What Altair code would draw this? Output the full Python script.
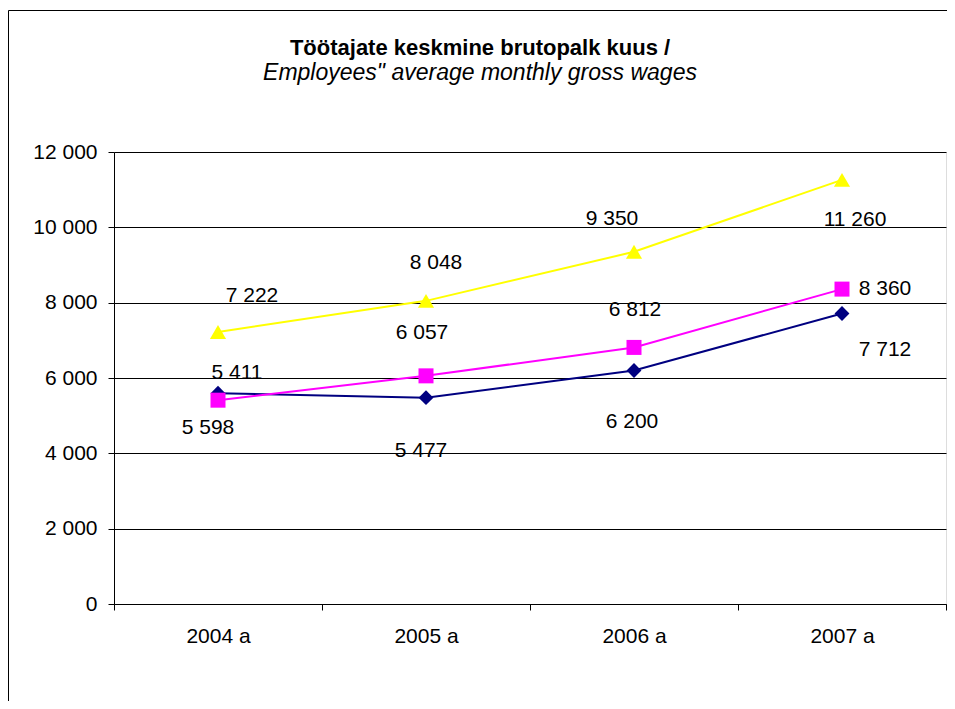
import altair as alt
import pandas as pd

# ---- data ----
years = ["2004 a", "2005 a", "2006 a", "2007 a"]
series_names = ["Narva", "Ida Virumaa / Ida Viru county", "Eesti  / Estonia"]
narva = [5598, 5477, 6200, 7712]
ida_viru = [5411, 6057, 6812, 8360]
eesti = [7222, 8048, 9350, 11260]
y_ticks = [0, 2000, 4000, 6000, 8000, 10000, 12000]

# ---- styles ----
colors = ["#000080", "#FF00FF", "#FFFF00"]
marker_shapes = ["diamond", "square", "triangle-up"]
marker_sizes = [220, 225, 260]
# legend symbols: a line with the marker on it (unit = 7 px)
legend_paths = [
    "M-1,0L6.86,0M2.93,-1L3.93,0L2.93,1L1.93,0Z",
    "M-1,0L6.86,0M2.0,-0.95L3.86,-0.95L3.86,0.95L2.0,0.95Z",
    "M-1,0L6.86,0M2.93,-1.1L4.03,0.8L1.83,0.8Z",
]
# data-label pixel offsets (label placement, styling only)
label_dx = [[-10, -5, -2, 43], [19, -4, 1, 43], [34, 10, -22, 13]]
label_dy = [[35, 53, 52, 36], [-27, -43, -37, 0], [-36, -38, -33, 40]]

FONT = "Liberation Sans"
FS = 21

rows = []
for si, (name, vals) in enumerate(zip(series_names, [narva, ida_viru, eesti])):
    for yi, (yr, v) in enumerate(zip(years, vals)):
        rows.append({
            "series": name,
            "year": yr,
            "value": v,
            "label": f"{v:,}".replace(",", " "),
            "dx": label_dx[si][yi],
            "dy": label_dy[si][yi],
        })
df = pd.DataFrame(rows)

x_enc = alt.X(
    "year:N",
    sort=years,
    scale=alt.Scale(type="band", paddingInner=0, paddingOuter=0, domain=years),
    axis=alt.Axis(
        title=None, labelAngle=0, tickBand="extent", grid=False,
        tickSize=6, labelPadding=15, domainColor="black", tickColor="black",
        labelFont=FONT, labelFontSize=FS, labelColor="black",
    ),
)
y_enc = alt.Y(
    "value:Q",
    scale=alt.Scale(domain=[0, 12000], nice=False, zero=True),
    axis=alt.Axis(
        title=None, values=y_ticks, grid=True, gridColor="black", gridWidth=1,
        labelExpr="replace(format(datum.value, ','), ',', ' ')",
        tickSize=6, labelPadding=11, domainColor="black", tickColor="black",
        labelFont=FONT, labelFontSize=FS, labelColor="black",
    ),
)
color_scale = alt.Scale(domain=series_names, range=colors)

base = alt.Chart(df)
one = alt.Chart(pd.DataFrame({"k": [0]}))

# outer chart border (left and top edges; the others fall outside the picture)
frame_left = one.mark_rule(color="black", strokeWidth=1).encode(
    x=alt.value(-105.5), y=alt.value(-141.5), y2=alt.value(900)
)
frame_top = one.mark_rule(color="black", strokeWidth=1).encode(
    x=alt.value(-105.5), x2=alt.value(1200), y=alt.value(-141.5)
)

lines = base.mark_line(strokeWidth=2).encode(
    x=x_enc, y=y_enc,
    color=alt.Color("series:N", scale=color_scale, legend=None),
)

point_layers = [
    base.transform_filter(alt.datum.series == name).mark_point(
        filled=True, opacity=1, size=sz, shape=shp, color=col
    ).encode(x=x_enc, y=y_enc)
    for name, shp, col, sz in zip(series_names, marker_shapes, colors, marker_sizes)
]

texts = base.mark_text(
    font=FONT, fontSize=FS, color="black", align="center", baseline="middle",
    dx=alt.ExprRef("datum.dx"), dy=alt.ExprRef("datum.dy"),
).encode(
    x=x_enc, y=y_enc,
    text="label:N",
)

legend_layer = base.mark_point(filled=True, opacity=0).encode(
    x=x_enc, y=y_enc,
    fill=alt.Fill("series:N", scale=alt.Scale(domain=series_names, range=colors), legend=alt.Legend(title=None)),
    stroke=alt.Stroke("series:N", scale=alt.Scale(domain=series_names, range=colors), legend=alt.Legend(title=None)),
    shape=alt.Shape("series:N", scale=alt.Scale(domain=series_names, range=legend_paths), legend=alt.Legend(title=None)),
)

chart = alt.layer(frame_left, frame_top, lines, *point_layers, texts, legend_layer).properties(
    width=832,
    height=452,
    padding={"left": 106, "top": 144, "right": 1, "bottom": 97},
    autosize=alt.AutoSizeParams(type="none"),
    title=alt.TitleParams(
        text="Töötajate keskmine brutopalk kuus /",
        subtitle='Employees" average monthly gross wages',
        font=FONT, fontSize=22, fontWeight="bold", color="black",
        subtitleFont=FONT, subtitleFontSize=23, subtitleFontStyle="italic",
        subtitleColor="black", subtitlePadding=2,
        anchor="middle", frame="group", dx=-50, offset=-76,
    ),
).configure_view(
    fill="#C0C0C0", stroke="#808080", strokeWidth=2
).configure_legend(
    orient="none", legendX=69, legendY=523, direction="horizontal", columns=3,
    labelFont=FONT, labelFontSize=FS, labelColor="black", labelLimit=500,
    symbolSize=196, symbolStrokeWidth=2, symbolOpacity=1,
    symbolFillColor="#000080", symbolStrokeColor="#000080",
    strokeColor="black", padding=6, columnPadding=9, labelOffset=46,
).configure(background="white")

chart.save("out.html", embed_options={"renderer": "svg", "actions": False})
